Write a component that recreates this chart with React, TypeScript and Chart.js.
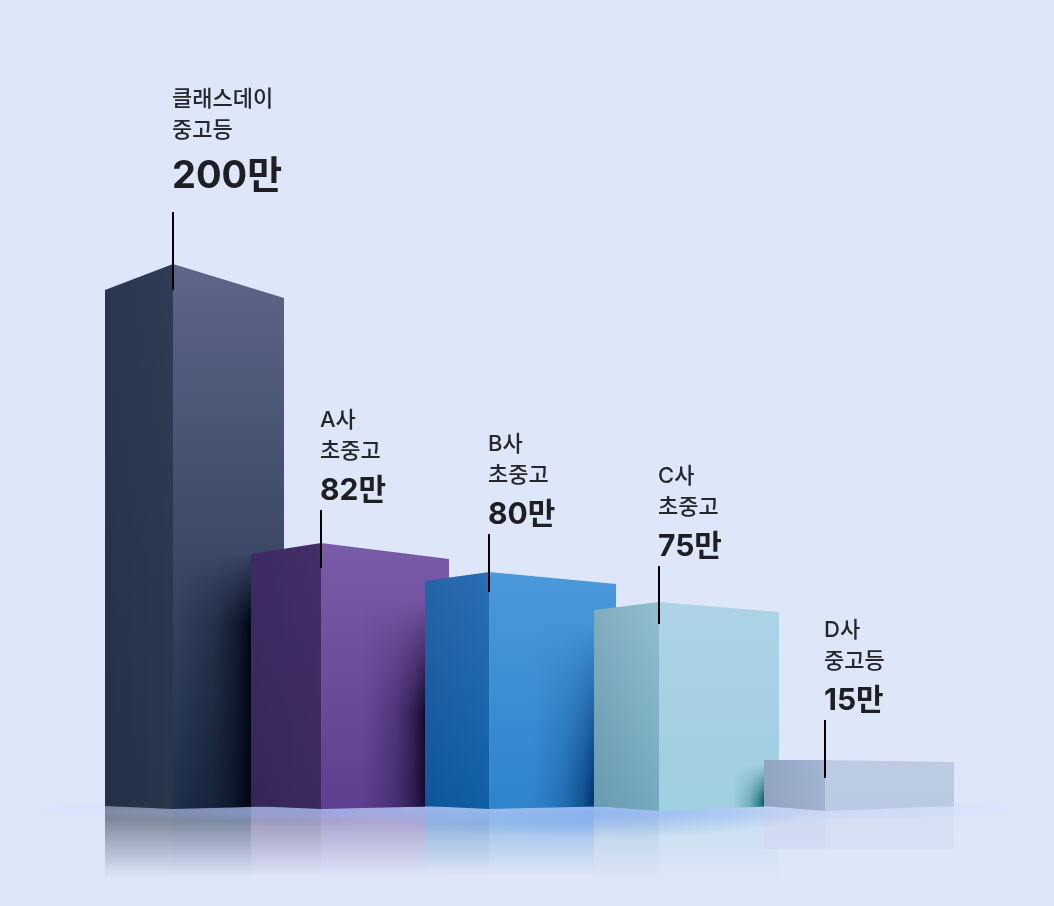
import { useEffect, useRef } from 'react';
import { Chart, registerables } from 'chart.js';

Chart.register(...registerables);

const FONT = 'Inter, "Noto Sans CJK KR", sans-serif';
const PAGE_BG = '#dee6fa';

const names = ['클래스데이', 'A사', 'B사', 'C사', 'D사'];
const grades = ['중고등', '초중고', '초중고', '초중고', '중고등'];
const values = [200, 82, 80, 75, 15];
const unit = '만';
// the bars in the picture are not to scale with the values, so their drawn heights are read separately
const drawnHeights = [544, 265, 236, 206, 48];

// colours of each face: [top, bottom]
const leftFace = [['#2e3c56', '#27354a'], ['#452e6a', '#3c295d'], ['#2a6fb4', '#105fa6'], ['#90bfd0', '#74aac0'], ['#a1b6d3', '#a0b3d0']];
const rightFace = [['#5d6588', '#1f2f4c'], ['#7a5ba8', '#5e3f8f'], ['#4b98da', '#2f84cc'], ['#add3e5', '#9fcfe0'], ['#bdcce4', '#b9c9e2']];
const shadowColors = ['#000512', '#150a30', '#003672', '#07606c'];

// shape of the boxes, in pixels
const ridgeNudge = [0, -15, -10, -3, 0];
const leftWidth = [68, 70, 64, 65, 61];
const rightWidth = [111, 128, 127, 120, 129];
const leftDrop = [26, 11, 9, 8, 0];
const rightDrop = [34, 16, 12, 10, 2];
const shadowWidth = [76, 62, 60, 30];
const shadowStart = [10, 30, 25, 5];
const shadowRamp = [70, 110, 170, 35];
const reflectDepth = [70, 70, 68, 72, 41];
const reflectAlpha = [[0.62, 0], [0.48, 0], [0.48, 0], [0.4, 0], [0.26, 0.2]];
const leaderRise = [52, 33, 38, 36, 40];
const leaderDrop = [26, 25, 20, 22, 18];
const valueFont = [38, 30, 30, 30, 30];

const rgba = (hex: string, a: number) => {
  const n = parseInt(hex.slice(1), 16);
  return `rgba(${(n >> 16) & 255},${(n >> 8) & 255},${n & 255},${a})`;
};

function ellipseGlow(ctx: CanvasRenderingContext2D, cx: number, cy: number, rx: number, ry: number, color: string, a: number) {
  ctx.save();
  ctx.translate(cx, cy);
  ctx.scale(rx, ry);
  const g = ctx.createRadialGradient(0, 0, 0, 0, 0, 1);
  g.addColorStop(0, rgba(color, a));
  g.addColorStop(0.55, rgba(color, a * 0.55));
  g.addColorStop(1, rgba(color, 0));
  ctx.fillStyle = g;
  ctx.fillRect(-1, -1, 2, 2);
  ctx.restore();
}

// dark band next to the following box: grows sideways towards its edge, fades in from the top
function shadeBand(ctx: CanvasRenderingContext2D, edge: number, width: number, top: number, ramp: number, bottom: number, color: string) {
  const w = Math.ceil(width);
  const h = Math.ceil(bottom - top);
  if (h <= 0) return;
  const off = document.createElement('canvas');
  off.width = w;
  off.height = h;
  const o = off.getContext('2d');
  if (!o) return;
  const side = o.createLinearGradient(0, 0, w, 0);
  side.addColorStop(0, rgba(color, 0));
  side.addColorStop(0.5, rgba(color, 0.28));
  side.addColorStop(0.8, rgba(color, 0.62));
  side.addColorStop(1, rgba(color, 1));
  o.fillStyle = side;
  o.fillRect(0, 0, w, h);
  o.globalCompositeOperation = 'destination-in';
  const down = o.createLinearGradient(0, 0, 0, ramp);
  down.addColorStop(0, 'rgba(0,0,0,0)');
  down.addColorStop(1, 'rgba(0,0,0,1)');
  o.fillStyle = down;
  o.fillRect(0, 0, w, h);
  ctx.drawImage(off, edge - w, top, w, h);
}

const background = {
  id: 'background',
  beforeDraw(chart: Chart) {
    const { ctx, width, height } = chart;
    ctx.fillStyle = PAGE_BG;
    ctx.fillRect(0, 0, width, height);
  },
};

const boxes = {
  id: 'boxes',
  afterDatasetsDraw(chart: Chart) {
    const { ctx } = chart;
    const bars = chart.getDatasetMeta(0).data;
    const base = chart.scales.y.getPixelForValue(0);
    const ridges = bars.map((b, i) => b.x + ridgeNudge[i]);

    // reflections, each one replacing whatever is under it
    bars.forEach((b, i) => {
      const x0 = ridges[i] - leftWidth[i];
      const x1 = ridges[i] + rightWidth[i];
      const end = base + reflectDepth[i];
      const [a0, a1] = reflectAlpha[i];
      ctx.fillStyle = PAGE_BG;
      ctx.fillRect(x0, base - 3, x1 - x0, end - base + 3);
      const gl = ctx.createLinearGradient(0, base, 0, end);
      gl.addColorStop(0, rgba(leftFace[i][1], a0));
      gl.addColorStop(1, rgba(leftFace[i][1], a1));
      ctx.fillStyle = gl;
      ctx.fillRect(x0, base - 3, ridges[i] - x0, end - base + 3);
      const gr = ctx.createLinearGradient(0, base, 0, end);
      gr.addColorStop(0, rgba(rightFace[i][1], a0));
      gr.addColorStop(1, rgba(rightFace[i][1], a1));
      ctx.fillStyle = gr;
      ctx.fillRect(ridges[i], base - 3, x1 - ridges[i], end - base + 3);
    });

    // floor glow
    ellipseGlow(ctx, 525, base + 1, 525, 15, '#b9cdfa', 0.7);
    ellipseGlow(ctx, 590, base + 6, 220, 24, '#6f9fea', 0.5);
    ellipseGlow(ctx, 300, base + 4, 170, 14, '#6a78d0', 0.25);

    // faces, left to right so each box covers the one before
    bars.forEach((b, i) => {
      const ridge = ridges[i];
      const x0 = ridge - leftWidth[i];
      const x1 = ridge + rightWidth[i];
      const apex = b.y;
      const ridgeFoot = base + 1 + (i > 2 ? 2 : 0);

      ctx.save();
      ctx.beginPath();
      ctx.moveTo(x0, apex + leftDrop[i]);
      ctx.lineTo(ridge, apex);
      ctx.lineTo(ridge, ridgeFoot);
      ctx.lineTo(x0, base - 2);
      ctx.closePath();
      ctx.clip();
      const gl = ctx.createLinearGradient(0, apex, 0, base);
      gl.addColorStop(0, leftFace[i][0]);
      gl.addColorStop(1, leftFace[i][1]);
      ctx.fillStyle = gl;
      ctx.fillRect(x0, apex, ridge - x0, base - apex + 4);
      // left face gets a little darker away from the ridge
      const gs = ctx.createLinearGradient(x0, 0, ridge, 0);
      gs.addColorStop(0, 'rgba(0,10,40,0.1)');
      gs.addColorStop(1, 'rgba(0,10,40,0)');
      ctx.fillStyle = gs;
      ctx.fillRect(x0, apex, ridge - x0, base - apex + 4);
      ctx.restore();

      ctx.save();
      ctx.beginPath();
      ctx.moveTo(ridge, apex);
      ctx.lineTo(x1, apex + rightDrop[i]);
      ctx.lineTo(x1, base - 2);
      ctx.lineTo(ridge, ridgeFoot);
      ctx.closePath();
      ctx.clip();
      const gr = ctx.createLinearGradient(0, apex, 0, base);
      gr.addColorStop(0, rightFace[i][0]);
      gr.addColorStop(1, rightFace[i][1]);
      ctx.fillStyle = gr;
      ctx.fillRect(ridge, apex, x1 - ridge, base - apex + 4);
      // shade thrown by the next box
      if (i < bars.length - 1) {
        const nextLeft = ridges[i + 1] - leftWidth[i + 1];
        const top = bars[i + 1].y + shadowStart[i];
        shadeBand(ctx, nextLeft, shadowWidth[i], top, shadowRamp[i], base + 4, shadowColors[i]);
      }
      ctx.restore();
    });

    // leaders and labels
    bars.forEach((b, i) => {
      const ridge = ridges[i];
      const top = b.y - leaderRise[i];
      ctx.fillStyle = '#000000';
      ctx.fillRect(ridge - 1, top, 2, leaderRise[i] + leaderDrop[i]);

      const vy = top - (i === 0 ? 25 : 11);
      const tx = ridge - 1;
      ctx.textAlign = 'left';
      ctx.textBaseline = 'alphabetic';
      ctx.fillStyle = '#1d1f23';
      ctx.font = `700 ${valueFont[i]}px ${FONT}`;
      ctx.fillText(`${values[i]}${unit}`, tx, vy + 1);
      ctx.fillStyle = '#25272b';
      ctx.font = `500 22px ${FONT}`;
      const gradeY = vy - (i === 0 ? 50 : 41);
      ctx.fillText(grades[i], tx, gradeY);
      ctx.fillText(names[i], tx, gradeY - 31);
    });
  },
};

export default function App() {
  const canvasRef = useRef<HTMLCanvasElement>(null);

  useEffect(() => {
    if (!canvasRef.current) return;
    const chart = new Chart(canvasRef.current, {
      type: 'bar',
      data: {
        labels: names,
        datasets: [{ data: drawnHeights, backgroundColor: 'rgba(0,0,0,0)', barThickness: 1 }],
      },
      options: {
        responsive: true,
        maintainAspectRatio: false,
        animation: false,
        layout: { padding: { left: 91.5, right: 147.5 } },
        plugins: { legend: { display: false }, tooltip: { enabled: false } },
        scales: {
          x: { display: false },
          y: { display: false, min: -98, max: 808 },
        },
      },
      plugins: [background, boxes],
    });
    return () => chart.destroy();
  }, []);

  return (
    <div style={{ position: 'absolute', left: 0, top: 0, width: 1054, height: 906 }}>
      <canvas ref={canvasRef} />
    </div>
  );
}
